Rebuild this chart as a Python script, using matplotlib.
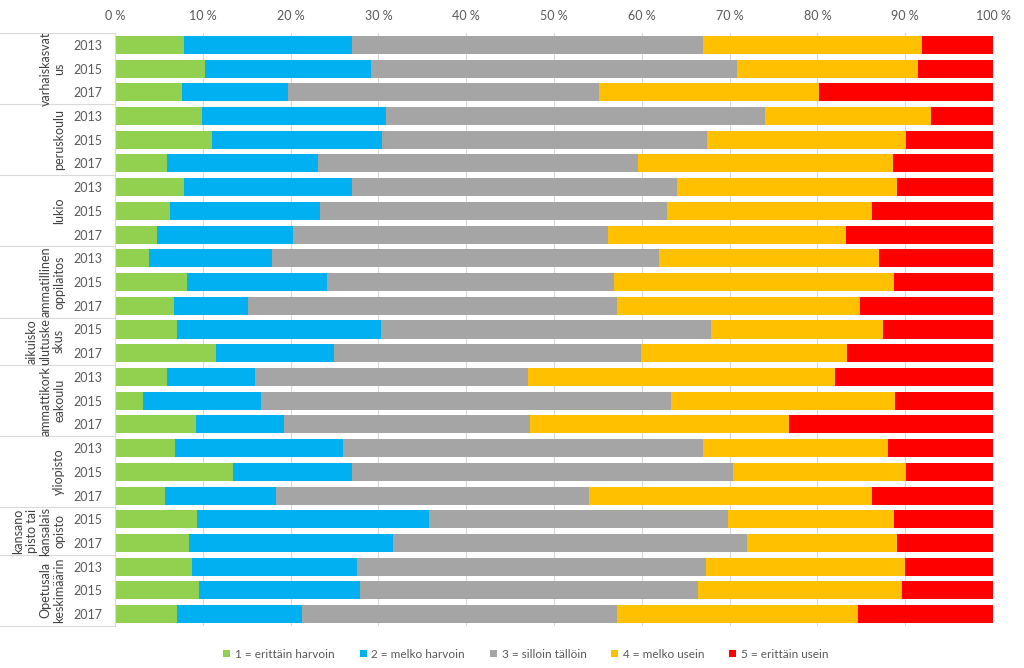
import numpy as np
import matplotlib.pyplot as plt
from matplotlib.transforms import blended_transform_factory

plt.rcParams['font.family'] = ['Lato', 'DejaVu Sans']

groups = ['varhaiskasvat\nus', 'peruskoulu', 'lukio', 'ammatillinen\noppilaitos',
          'aikuisko\nulutuske\nskus', 'ammattikork\neakoulu', 'yliopisto',
          'kansano\npisto tai\nkansalais\nopisto', 'Opetusala\nkeskimäärin']
group_years = [['2013', '2015', '2017'], ['2013', '2015', '2017'], ['2013', '2015', '2017'],
               ['2013', '2015', '2017'], ['2015', '2017'], ['2013', '2015', '2017'],
               ['2013', '2015', '2017'], ['2015', '2017'], ['2013', '2015', '2017']]

labels = ['1 = erittäin harvoin', '2 = melko harvoin', '3 = silloin tällöin',
          '4 = melko usein', '5 = erittäin usein']
colors = ['#92D050', '#00B0F0', '#A5A5A5', '#FFC000', '#FF0000']

v1 = [7.9, 10.3, 7.6, 9.9, 11.0, 5.9, 7.9, 6.3, 4.8, 3.9, 8.2, 6.7, 7.1, 11.5,
      5.9, 3.2, 9.2, 6.8, 13.4, 5.7, 9.3, 8.4, 8.8, 9.6, 7.1]
v2 = [19.1, 18.9, 12.1, 21.0, 19.4, 17.2, 19.1, 17.0, 15.5, 14.0, 15.9, 8.4, 23.2, 13.4,
      10.0, 13.4, 10.0, 19.2, 13.6, 12.6, 26.5, 23.3, 18.8, 18.3, 14.2]
v3 = [40.0, 41.6, 35.4, 43.1, 37.0, 36.5, 37.0, 39.6, 35.9, 44.1, 32.7, 42.1, 37.6, 35.0,
      31.1, 46.7, 28.1, 41.0, 43.4, 35.7, 34.0, 40.3, 39.7, 38.5, 35.9]
v4 = [24.9, 20.7, 25.1, 18.9, 22.7, 29.0, 25.1, 23.3, 27.1, 25.0, 31.9, 27.7, 19.6, 23.5,
      35.0, 25.5, 29.5, 21.0, 19.7, 32.2, 18.9, 17.1, 22.7, 23.2, 27.4]
v5 = [8.1, 8.5, 19.8, 7.1, 9.9, 11.4, 10.9, 13.8, 16.7, 13.0, 11.3, 15.1, 12.5, 16.6,
      18.0, 11.2, 23.2, 12.0, 9.9, 13.8, 11.3, 10.9, 10.0, 10.4, 15.4]

years = [y for ys in group_years for y in ys]
n = len(years)
ypos = np.arange(n)

fig = plt.figure(figsize=(10.24, 6.68), dpi=100)
ax = fig.add_axes([115 / 1024, 1 - 626 / 668, 878 / 1024, 593 / 668])

left = np.zeros(n)
for vals, lab, col in zip([v1, v2, v3, v4, v5], labels, colors):
    vals = np.array(vals)
    ax.barh(ypos, vals, left=left, height=0.76, color=col, label=lab, zorder=2)
    left += vals

ax.set_xlim(0, 100)
ax.set_ylim(n - 0.5, -0.5)
ax.set_xticks(np.arange(0, 101, 10))
ax.set_xticklabels([f'{t} %' for t in range(0, 101, 10)])
ax.xaxis.tick_top()
ax.tick_params(axis='x', length=0, pad=8, labelsize=9, labelcolor='#595959')
ax.set_yticks(ypos)
ax.set_yticklabels(years)
ax.tick_params(axis='y', length=0, pad=9, labelsize=9, labelcolor='#595959')
ax.grid(axis='x', color='#D9D9D9', linewidth=0.8, zorder=0)
for s in ['top', 'right', 'bottom']:
    ax.spines[s].set_visible(False)
ax.spines['left'].set_color('#D9D9D9')

# group labels and separators
trans = blended_transform_factory(ax.transAxes, ax.transData)
x0 = -115 / 878
start = 0
bounds = [-0.5]
for g, ys in zip(groups, group_years):
    end = start + len(ys)
    mid = (start + end - 1) / 2
    ax.text(-50 / 878, mid, g, transform=trans, rotation=90, ha='right', va='center',
            multialignment='center', fontsize=9, color='#404040', linespacing=1.15)
    bounds.append(end - 0.5)
    start = end
for b in bounds:
    ax.plot([x0, 0], [b, b], transform=trans, color='#D9D9D9', linewidth=0.8, clip_on=False)

fig.legend(loc='center', bbox_to_anchor=(526 / 1024, 1 - 654 / 668), ncol=5, frameon=False,
           fontsize=8.5, handlelength=0.6, handleheight=0.6, handletextpad=0.4,
           columnspacing=2.1, labelcolor='#595959')

fig.savefig('out.png', dpi=100)
